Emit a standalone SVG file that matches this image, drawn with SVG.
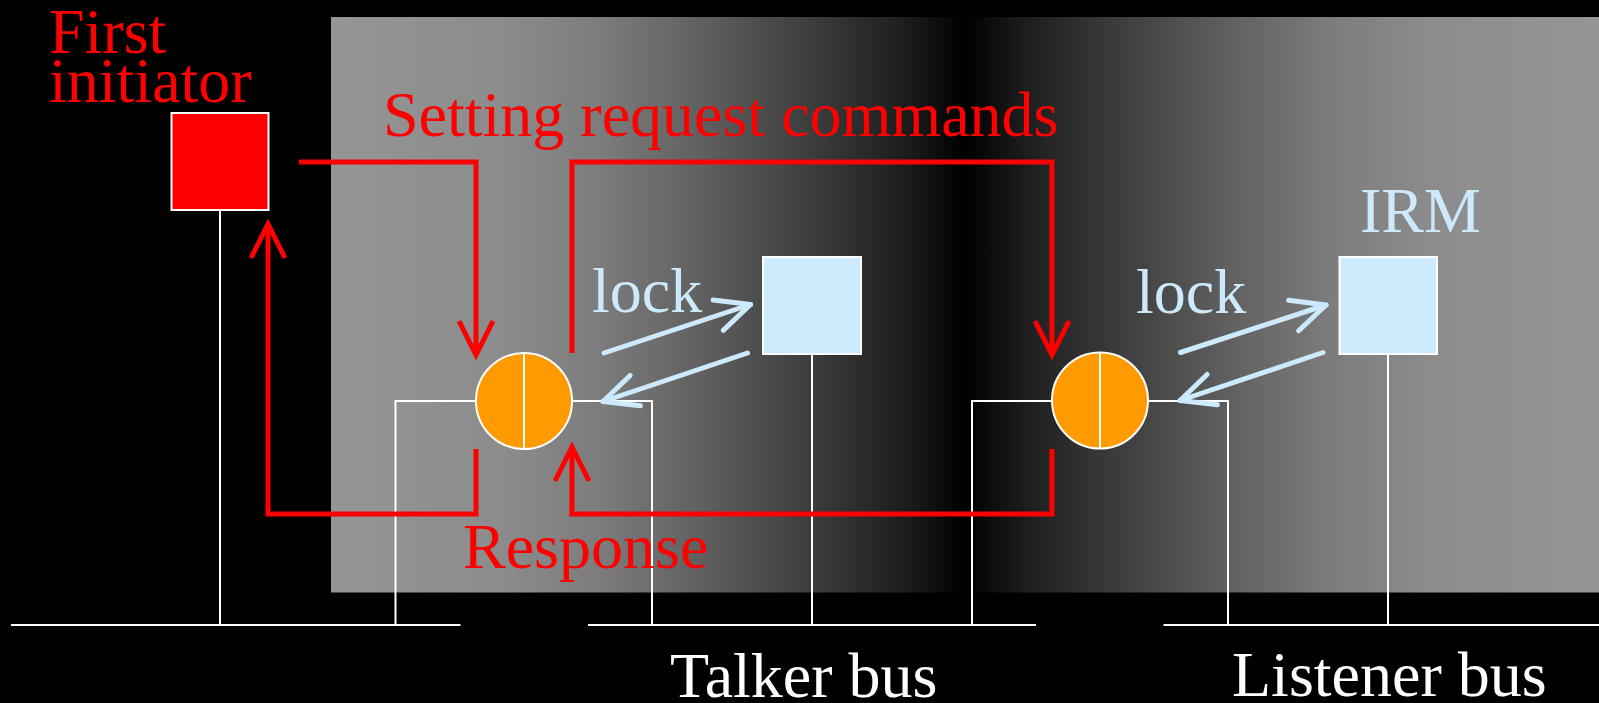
<svg xmlns="http://www.w3.org/2000/svg" width="1599" height="703" viewBox="0 0 1599 703">
<style>
.wire{fill:none;stroke:#ffffff;stroke-width:2}
.red{fill:none;stroke:#ff0000;stroke-width:5;stroke-linejoin:miter}
.blue{fill:none;stroke:#cdeafc;stroke-width:5;stroke-linecap:round}
.t{font-family:"Liberation Serif","Times New Roman",serif;font-size:64px}
.tr{fill:#ff0000}
.tb{fill:#cdeafc}
.tw{fill:#ffffff}
.dev{fill:#cdebfd;stroke:#ffffff;stroke-width:2}
.node{fill:#ff9a00;stroke:#ffffff;stroke-width:2}
</style>
<defs>
<linearGradient id="bg" gradientUnits="userSpaceOnUse" x1="331" y1="0" x2="1599" y2="0">
<stop offset="0" stop-color="#959595"/>
<stop offset="0.133" stop-color="#8c8c8c"/>
<stop offset="0.212" stop-color="#7c7c7c"/>
<stop offset="0.291" stop-color="#606060"/>
<stop offset="0.370" stop-color="#404040"/>
<stop offset="0.449" stop-color="#1f1f1f"/>
<stop offset="0.500" stop-color="#000000"/>
<stop offset="0.551" stop-color="#1f1f1f"/>
<stop offset="0.630" stop-color="#404040"/>
<stop offset="0.709" stop-color="#606060"/>
<stop offset="0.788" stop-color="#7c7c7c"/>
<stop offset="0.867" stop-color="#8c8c8c"/>
<stop offset="1" stop-color="#959595"/>
</linearGradient>
<marker id="ar" markerUnits="userSpaceOnUse" orient="auto" refX="0" refY="0" markerWidth="80" markerHeight="80" viewBox="-40 -40 80 80" overflow="visible">
<path d="M-34,-17 L0,0 L-34,17" fill="none" stroke="#ff0000" stroke-width="5"/>
</marker>
<marker id="ab" markerUnits="userSpaceOnUse" orient="auto" refX="0" refY="0" markerWidth="80" markerHeight="80" viewBox="-40 -40 80 80" overflow="visible">
<path d="M-34,-16 L0,0 L-34,16" fill="none" stroke="#cdeafc" stroke-width="5" stroke-linecap="round" stroke-linejoin="round"/>
</marker>
</defs>
<rect x="0" y="0" width="1599" height="703" fill="#000000"/>
<rect x="331" y="17" width="1268" height="575.5" fill="url(#bg)"/>

<g id="buses">
<path class="wire" d="M11,625 H460.5"/>
<path class="wire" d="M588,625 H1036"/>
<path class="wire" d="M1163.5,625 H1599"/>
<path class="wire" d="M220,210 V625"/>
<path class="wire" d="M812,354 V625"/>
<path class="wire" d="M1388,354 V625"/>
<path class="wire" d="M395.5,625 V401 H652 V625"/>
<path class="wire" d="M972,625 V401 H1228 V625"/>
</g>

<g id="first-initiator">
<rect x="171.5" y="113" width="97" height="97" fill="#ff0000" stroke="#ffffff" stroke-width="2"/>
<text class="t tr" x="49" y="53">First</text>
<text class="t tr" x="49" y="102">initiator</text>
</g>

<g id="talker-node">
<circle class="node" cx="524" cy="401" r="48"/>
<path class="wire" d="M524,353 V449"/>
</g>

<g id="listener-node">
<circle class="node" cx="1100" cy="400.5" r="48"/>
<path class="wire" d="M1100,352.5 V448.5"/>
</g>

<g id="talker-irm">
<rect class="dev" x="763" y="257" width="98" height="97"/>
</g>

<g id="listener-irm">
<rect class="dev" x="1339.5" y="257" width="97.5" height="97"/>
<text class="t tb" x="1360" y="231.5">IRM</text>
</g>

<g id="connectors">
<path class="red" d="M299,162 H476 V355" marker-end="url(#ar)"/>
<path class="red" d="M572,353 V162 H1052 V355" marker-end="url(#ar)"/>
<path class="red" d="M1052,449 V514 H572 V447" marker-end="url(#ar)"/>
<path class="red" d="M476,449 V514 H268 V224" marker-end="url(#ar)"/>
<path class="blue" d="M604,353 L750.5,304.5" marker-end="url(#ab)"/>
<path class="blue" d="M747.5,353 L603,401.5" marker-end="url(#ab)"/>
<path class="blue" d="M1180.5,352.5 L1326,305" marker-end="url(#ab)"/>
<path class="blue" d="M1323,352.5 L1180,400.5" marker-end="url(#ab)"/>
</g>

<g id="labels">
<text class="t tr" x="383" y="136">Setting request commands</text>
<text class="t tr" x="463" y="568">Response</text>
<text class="t tb" x="592" y="312">lock</text>
<text class="t tb" x="1136" y="312.5">lock</text>
<text class="t tw" x="670" y="697">Talker bus</text>
<text class="t tw" x="1232" y="696">Listener bus</text>
</g>
</svg>
